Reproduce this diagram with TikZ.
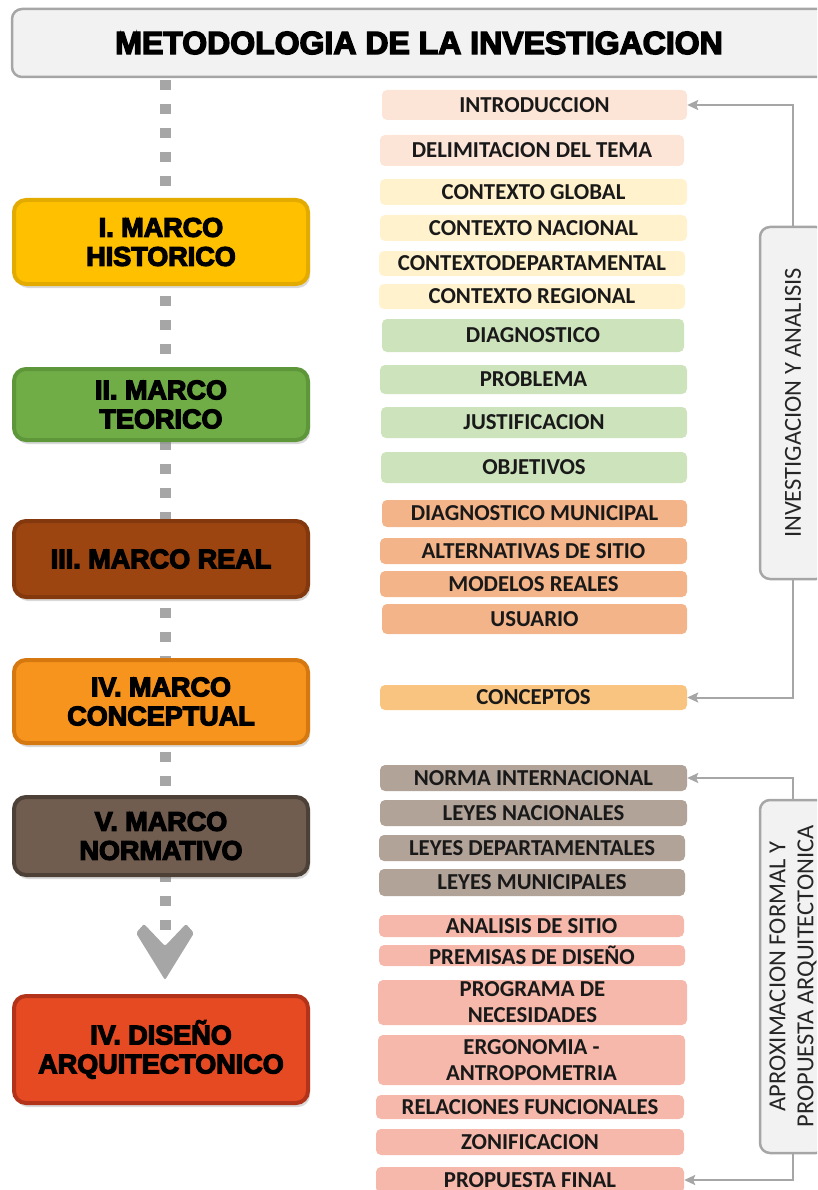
\documentclass[tikz,border=0pt]{standalone}
\usepackage{fontspec}
\setmainfont{Liberation Sans}
\newfontfamily\carlito{Carlito}
\newfontfamily\heavy{Liberation Sans Bold}[FakeBold=4.5]
\usetikzlibrary{shadows,arrows.meta}
\definecolor{titleFill}{HTML}{F2F2F2}
\definecolor{lineGray}{HTML}{A6A6A6}
\definecolor{histFill}{HTML}{FFC000}
\definecolor{histLine}{HTML}{E3AA00}
\definecolor{teorFill}{HTML}{70AD47}
\definecolor{teorLine}{HTML}{5E973A}
\definecolor{realFill}{HTML}{9C4511}
\definecolor{realLine}{HTML}{83390D}
\definecolor{concFill}{HTML}{F7941E}
\definecolor{concLine}{HTML}{D57810}
\definecolor{normFill}{HTML}{705D50}
\definecolor{normLine}{HTML}{4D4036}
\definecolor{disFill}{HTML}{E54A23}
\definecolor{disLine}{HTML}{B3331A}
\definecolor{cIntro}{HTML}{FCE4D6}
\definecolor{cCtx}{HTML}{FFF2CC}
\definecolor{cGreen}{HTML}{CDE3BC}
\definecolor{cReal}{HTML}{F4B48A}
\definecolor{cConc}{HTML}{F9C47F}
\definecolor{cNorm}{HTML}{B2A399}
\definecolor{cDis}{HTML}{F5B8AA}
\tikzset{
  mainbox/.style={rounded corners=12pt, line width=4pt, minimum width=294pt, align=center,
    inner sep=0pt, font=\heavy\fontsize{27}{29}\selectfont, text=black,
    drop shadow={opacity=0.3, shadow xshift=2pt, shadow yshift=-4pt}},
  itm/.style={rounded corners=5pt, inner sep=0pt, align=center,
    font=\carlito\bfseries\fontsize{22.8}{26}\selectfont, text=black!90},
  vbox/.style={draw=lineGray, line width=2.5pt, fill=titleFill, rounded corners=10pt},
  vtext/.style={rotate=90, align=center, font=\carlito\fontsize{24.5}{28}\selectfont, text=black!85},
  conn/.style={draw=lineGray, line width=2pt, -{Stealth[length=11pt,width=10pt,inset=2pt]}},
  dashline/.style={draw=lineGray, line width=11pt, dash pattern=on 10pt off 14pt}
}
\begin{document}
\begin{tikzpicture}[x=1pt,y=-1pt]
\useasboundingbox (0,0) rectangle (817,1190);
\clip (0,0) rectangle (817,1190);

% title
\node[draw=lineGray, line width=2.5pt, fill=titleFill, rounded corners=10pt,
  minimum width=834pt, minimum height=68pt] (titlebox) at (429,43) {};
\node[font=\heavy\fontsize{32}{36}\selectfont] (title) at (419,43) {METODOLOGIA DE LA INVESTIGACION};

% dashed spine and arrow head
\coordinate (spineTop) at (165,80);
\coordinate (notch) at (165,944);
\draw[dashline] (spineTop) -- (notch);
\fill[lineGray, rounded corners=2pt] (136,933) -- (165,980) -- (194,933) -- (186,924) -- (165,946) -- (144,924) -- cycle;

% main boxes
\node[mainbox, fill=histFill, draw=histLine, minimum height=84pt] (hist) at (161,242) {I. MARCO\\HISTORICO};
\node[mainbox, fill=teorFill, draw=teorLine, minimum height=71pt] (teor) at (161,404.5) {II. MARCO\\TEORICO};
\node[mainbox, fill=realFill, draw=realLine, minimum height=76pt] (real) at (161,559) {III. MARCO REAL};
\node[mainbox, fill=concFill, draw=concLine, minimum height=83pt] (concep) at (161,701.5) {IV. MARCO\\CONCEPTUAL};
\node[mainbox, fill=normFill, draw=normLine, minimum height=78pt] (norm) at (161,836) {V. MARCO\\NORMATIVO};
\node[mainbox, fill=disFill, draw=disLine, minimum height=107pt] (dis) at (161,1049.5) {IV. DISEÑO\\ARQUITECTONICO};

% items
\node[itm, fill=cIntro, minimum width=305pt, minimum height=30pt] (intro) at (534.5,105) {INTRODUCCION};
\node[itm, fill=cIntro, minimum width=304pt, minimum height=31pt] (delim) at (532,150.5) {DELIMITACION DEL TEMA};
\node[itm, fill=cCtx, minimum width=307pt, minimum height=26pt] (cglob) at (533.5,192) {CONTEXTO GLOBAL};
\node[itm, fill=cCtx, minimum width=307pt, minimum height=26pt] (cnac) at (533.5,228) {CONTEXTO NACIONAL};
\node[itm, fill=cCtx, minimum width=306pt, minimum height=25pt] (cdep) at (532,263.5) {CONTEXTODEPARTAMENTAL};
\node[itm, fill=cCtx, minimum width=306pt, minimum height=25pt] (creg) at (532,296.5) {CONTEXTO REGIONAL};
\node[itm, fill=cGreen, minimum width=302pt, minimum height=33pt] (diag) at (533,335.5) {DIAGNOSTICO};
\node[itm, fill=cGreen, minimum width=307pt, minimum height=29pt] (prob) at (533.5,379.5) {PROBLEMA};
\node[itm, fill=cGreen, minimum width=306pt, minimum height=31pt] (just) at (534,422.5) {JUSTIFICACION};
\node[itm, fill=cGreen, minimum width=306pt, minimum height=31pt] (obj) at (534,467.5) {OBJETIVOS};
\node[itm, fill=cReal, minimum width=305pt, minimum height=27pt] (dmun) at (534.5,513.5) {DIAGNOSTICO MUNICIPAL};
\node[itm, fill=cReal, minimum width=307pt, minimum height=26pt] (alt) at (533.5,551) {ALTERNATIVAS DE SITIO};
\node[itm, fill=cReal, minimum width=307pt, minimum height=26pt] (mod) at (533.5,584) {MODELOS REALES};
\node[itm, fill=cReal, minimum width=305pt, minimum height=30pt] (usu) at (534.5,619) {USUARIO};
\node[itm, fill=cConc, minimum width=307pt, minimum height=25pt] (conc) at (533.5,697.5) {CONCEPTOS};
\node[itm, fill=cNorm, minimum width=307pt, minimum height=26pt] (nint) at (533.5,778) {NORMA INTERNACIONAL};
\node[itm, fill=cNorm, minimum width=307pt, minimum height=26pt] (lnac) at (533.5,813) {LEYES NACIONALES};
\node[itm, fill=cNorm, minimum width=306pt, minimum height=26pt] (ldep) at (532,848) {LEYES DEPARTAMENTALES};
\node[itm, fill=cNorm, minimum width=306pt, minimum height=27pt] (lmun) at (532,882.5) {LEYES MUNICIPALES};
\node[itm, fill=cDis, minimum width=305pt, minimum height=22pt] (anal) at (531.5,926) {ANALISIS DE SITIO};
\node[itm, fill=cDis, minimum width=306pt, minimum height=21pt] (prem) at (532,955.5) {PREMISAS DE DISEÑO};
\node[itm, fill=cDis, minimum width=309pt, minimum height=45pt] (prog) at (532.5,1002.5) {PROGRAMA DE\\NECESIDADES};
\node[itm, fill=cDis, minimum width=307pt, minimum height=50pt] (ergo) at (531.5,1060) {ERGONOMIA -\\ANTROPOMETRIA};
\node[itm, fill=cDis, minimum width=308pt, minimum height=24pt] (rel) at (530,1107) {RELACIONES FUNCIONALES};
\node[itm, fill=cDis, minimum width=308pt, minimum height=26pt] (zon) at (530,1142) {ZONIFICACION};
\node[itm, fill=cDis, minimum width=308pt, minimum height=26pt] (prop) at (530,1180) {PROPUESTA FINAL};

% vertical group boxes
\node[vbox, minimum width=66pt, minimum height=352pt] (inv) at (793,403) {};
\node[vtext] (invtext) at (inv.center) {INVESTIGACION Y ANALISIS};
\node[vbox, minimum width=66pt, minimum height=353pt] (apr) at (793,976.5) {};
\node[vtext] (aprtext) at (apr.center) {APROXIMACION FORMAL Y\\PROPUESTA ARQUITECTONICA};

% connectors
\draw[conn] (inv.north) |- (intro.east);
\draw[conn] (inv.south) |- (conc.east);
\draw[conn] (apr.north) |- (nint.east);
\draw[conn] (apr.south) |- (prop.east);
\end{tikzpicture}
\end{document}
